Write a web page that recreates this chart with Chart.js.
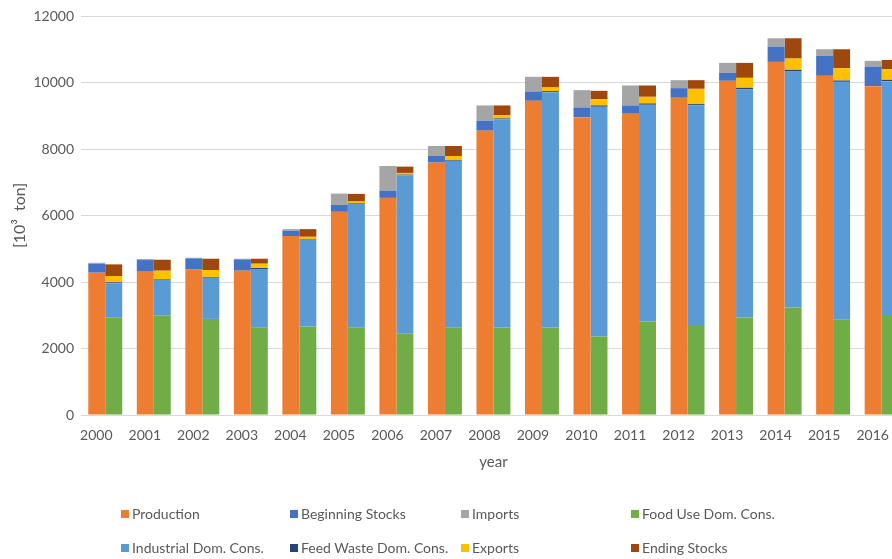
<!DOCTYPE html>
<html>
<head>
<meta charset="utf-8">
<script src="https://cdn.jsdelivr.net/npm/chart.js@4/dist/chart.umd.min.js"></script>
<style>
  html, body { margin: 0; padding: 0; background: #fff; overflow: hidden; width: 892px; height: 559px; }
  #wrap { position: relative; width: 910px; height: 559px; }
  #legend { position: absolute; left: 0; top: 0; width: 892px; height: 559px; pointer-events: none;
            font-family: Lato, "Open Sans", sans-serif; font-size: 14px; color: #595959; }
  .li { position: absolute; white-space: nowrap; line-height: 16px; }
  .sw { display: inline-block; width: 8px; height: 8px; margin-right: 3px; vertical-align: 1px; }
</style>
</head>
<body>
<div id="wrap">
  <canvas id="c" width="910" height="559"></canvas>
  <div id="legend"></div>
</div>
<script>
const years = ["2000","2001","2002","2003","2004","2005","2006","2007","2008","2009","2010","2011","2012","2013","2014","2015","2016"];

const production      = [4280, 4330, 4380, 4340, 5380, 6110, 6530, 7590, 8550, 9450, 8950, 9060, 9540, 10050, 10620, 10200, 9890];
const beginningStocks = [270, 330, 330, 340, 160, 210, 220, 200, 300, 280, 300, 250, 290, 240, 460, 600, 590];
const imports         = [30, 30, 20, 20, 50, 340, 740, 300, 460, 440, 520, 600, 240, 300, 250, 200, 170];

const foodUse         = [2940, 2990, 2890, 2640, 2660, 2640, 2440, 2640, 2630, 2630, 2360, 2810, 2710, 2930, 3230, 2880, 2980];
const industrial      = [1020, 1080, 1230, 1750, 2600, 3710, 4770, 5000, 6260, 7080, 6910, 6520, 6600, 6860, 7100, 7140, 7060];
const feedWaste       = [30, 20, 20, 30, 20, 20, 20, 20, 30, 30, 40, 40, 40, 50, 50, 40, 40];
const exportsV        = [190, 250, 220, 130, 80, 50, 50, 130, 100, 110, 190, 200, 460, 300, 340, 370, 320];
const endingStocks    = [350, 330, 340, 150, 230, 230, 190, 300, 290, 320, 250, 340, 260, 450, 610, 570, 280];

const yTicks = [0, 2000, 4000, 6000, 8000, 10000, 12000];

const seriesNames = ["Production", "Beginning Stocks", "Imports", "Food Use Dom. Cons.",
                     "Industrial Dom. Cons.", "Feed Waste Dom. Cons.", "Exports", "Ending Stocks"];
const seriesData  = [production, beginningStocks, imports, foodUse, industrial, feedWaste, exportsV, endingStocks];
const seriesStack = ["supply", "supply", "supply", "use", "use", "use", "use", "use"];
const seriesColor = ["#ED7D31", "#4472C4", "#A5A5A5", "#70AD47", "#5B9BD5", "#264478", "#FFC000", "#9E480E"];

const datasets = seriesNames.map((n, i) => ({
  label: n,
  data: seriesData[i],
  stack: seriesStack[i],
  backgroundColor: seriesColor[i],
  borderWidth: 0,
  categoryPercentage: 0.7,
  barPercentage: 1.0
}));

const FONT = "Lato, 'Open Sans', sans-serif";
const TXT = "#595959";

new Chart(document.getElementById("c"), {
  type: "bar",
  data: { labels: years, datasets },
  options: {
    responsive: false,
    animation: false,
    layout: { padding: { left: 0, right: 4, top: 16, bottom: 88 } },
    plugins: { legend: { display: false }, tooltip: { enabled: false } },
    scales: {
      x: {
        stacked: true,
        grid: { display: false, drawTicks: false },
        border: { display: true, color: "#d9d9d9", width: 1 },
        ticks: { color: TXT, font: { family: FONT, size: 14 }, padding: 12, labelOffset: -9, maxRotation: 0, autoSkip: false },
        title: { display: true, text: "year", color: TXT, font: { family: FONT, size: 15 }, padding: { top: 0, bottom: 0 } },
        afterFit: (s) => { s.height = 56; }
      },
      y: {
        stacked: true,
        min: 0, max: 12000,
        afterBuildTicks: (s) => { s.ticks = yTicks.map(v => ({ value: v })); },
        grid: { color: "#d9d9d9", lineWidth: 1, drawTicks: false },
        border: { display: false },
        ticks: { color: TXT, font: { family: FONT, size: 14 }, padding: 7, callback: (v) => String(v) },
        title: { display: true, text: "[10³  ton]", color: TXT, font: { family: FONT, size: 16 }, padding: { top: 10, bottom: 0 } },
        afterFit: (s) => { s.width = 81; }
      }
    }
  }
});

// legend grid (4 columns x 2 rows)
const colX = [121, 290, 461, 631];
const rowY = [506, 540];
const lg = document.getElementById("legend");
seriesNames.forEach((n, i) => {
  const d = document.createElement("div");
  d.className = "li";
  d.style.left = colX[i % 4] + "px";
  d.style.top = rowY[Math.floor(i / 4)] + "px";
  d.innerHTML = '<span class="sw" style="background:' + seriesColor[i] + '"></span>' + n;
  lg.appendChild(d);
});
</script>
</body>
</html>
